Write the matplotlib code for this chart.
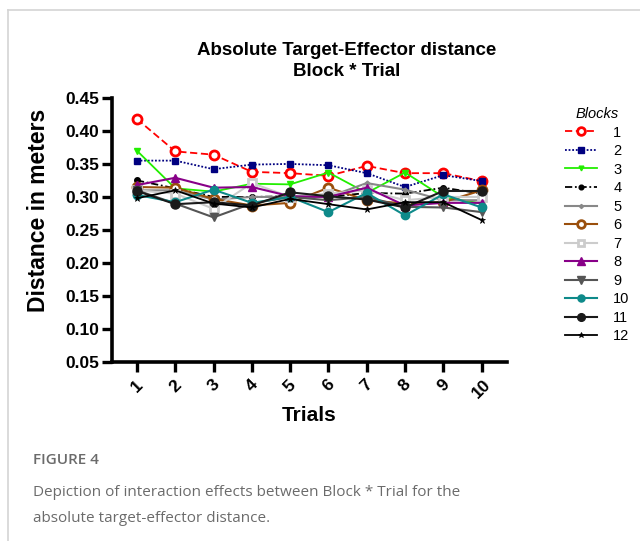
import matplotlib
matplotlib.use("Agg")
import matplotlib.pyplot as plt
from matplotlib.lines import Line2D

plt.rcParams['font.family'] = ['Liberation Sans', 'DejaVu Sans']

trials = [1, 2, 3, 4, 5, 6, 7, 8, 9, 10]
tick_labels = ["1", "2", "3", "4", "5", "6", "7", "8", "9", "10"]
y_ticks = [0.05, 0.10, 0.15, 0.20, 0.25, 0.30, 0.35, 0.40, 0.45]
block_names = ["1", "2", "3", "4", "5", "6", "7", "8", "9", "10", "11", "12"]

block1 = [0.418, 0.369, 0.364, 0.338, 0.336, 0.332, 0.347, 0.336, 0.336, 0.324]
block2 = [0.355, 0.355, 0.342, 0.349, 0.350, 0.348, 0.336, 0.315, 0.333, 0.324]
block3 = [0.370, 0.313, 0.308, 0.320, 0.319, 0.337, 0.306, 0.337, 0.300, 0.290]
block4 = [0.325, 0.313, 0.300, 0.300, 0.301, 0.300, 0.306, 0.305, 0.314, 0.305]
block5 = [0.310, 0.310, 0.296, 0.300, 0.300, 0.300, 0.321, 0.311, 0.295, 0.295]
block6 = [0.315, 0.314, 0.297, 0.287, 0.291, 0.314, 0.295, 0.290, 0.292, 0.310]
block7 = [0.310, 0.305, 0.282, 0.321, 0.300, 0.305, 0.310, 0.295, 0.300, 0.300]
block8 = [0.318, 0.329, 0.314, 0.315, 0.301, 0.300, 0.314, 0.287, 0.291, 0.291]
block9 = [0.310, 0.290, 0.269, 0.290, 0.300, 0.295, 0.300, 0.285, 0.284, 0.277]
block10 = [0.303, 0.292, 0.311, 0.291, 0.300, 0.277, 0.306, 0.272, 0.304, 0.284]
block11 = [0.309, 0.289, 0.292, 0.287, 0.307, 0.301, 0.296, 0.284, 0.309, 0.309]
block12 = [0.298, 0.310, 0.290, 0.284, 0.297, 0.289, 0.281, 0.292, 0.292, 0.265]

series = [block1, block2, block3, block4, block5, block6,
          block7, block8, block9, block10, block11, block12]

styles = [
    dict(color='#ff0000', ls=(0, (4, 2)), marker='o', ms=6.5, mfc='white', mec='#ff0000', mew=2.0, lw=1.3),
    dict(color='#000080', ls=(0, (1, 1)), marker='s', ms=5, mfc='#000080', mec='#000080', mew=1, lw=1.3),
    dict(color='#22ee00', ls='-', marker='v', ms=4, mfc='#22ee00', mec='#22ee00', mew=1, lw=1.3),
    dict(color='#000000', ls=(0, (4, 1.5, 1, 1.5)), marker='o', ms=4, mfc='#000000', mec='#000000', mew=1, lw=1.3),
    dict(color='#888888', ls='-', marker='D', ms=2.5, mfc='#888888', mec='#888888', mew=1, lw=1.5),
    dict(color='#9a4f0c', ls='-', marker='o', ms=6.5, mfc='white', mec='#9a4f0c', mew=2.0, lw=1.5),
    dict(color='#cccccc', ls='-', marker='s', ms=5.5, mfc='white', mec='#cccccc', mew=2.0, lw=1.5),
    dict(color='#880088', ls='-', marker='^', ms=6, mfc='#880088', mec='#880088', mew=1, lw=1.5),
    dict(color='#555555', ls='-', marker='v', ms=6, mfc='#555555', mec='#555555', mew=1, lw=1.5),
    dict(color='#0e8a8a', ls='-', marker='o', ms=6, mfc='#0e8a8a', mec='#0e8a8a', mew=1, lw=1.5),
    dict(color='#1a1a1a', ls='-', marker='o', ms=6.5, mfc='#1a1a1a', mec='#1a1a1a', mew=1, lw=1.5),
    dict(color='#000000', ls='-', marker='*', ms=4.5, mfc='#000000', mec='#000000', mew=0.5, lw=1.3),
]

fig = plt.figure(figsize=(6.4, 5.41), dpi=100)
ax = fig.add_axes([0.1745, 0.331, 0.6175, 0.488])

for vals, name, st in zip(series, block_names, styles):
    ax.plot(trials, vals, label=name, color=st['color'], linestyle=st['ls'],
            linewidth=st['lw'], marker=st['marker'], markersize=st['ms'],
            markerfacecolor=st['mfc'], markeredgecolor=st['mec'],
            markeredgewidth=st['mew'])

ax.set_xlim(0.34, 10.66)
ax.set_ylim(0.05, 0.45)
ax.set_yticks(y_ticks)
ax.set_yticklabels([f"{v:.2f}" for v in y_ticks], fontsize=12.5, fontweight='bold')
ax.set_xticks(trials)
ax.set_xticklabels(tick_labels, rotation=45, ha='center', va='top',
                   fontsize=12.5, fontweight='bold')
for s in ['top', 'right']:
    ax.spines[s].set_visible(False)
for s in ['left', 'bottom']:
    ax.spines[s].set_linewidth(2.6)
ax.tick_params(axis='both', width=2.4, length=7, pad=2)
ax.tick_params(axis='x', pad=4)

ax.set_xlabel("Trials", fontsize=15, fontweight='bold', labelpad=3)
fig.text(39 / 640, 1 - 210 / 541, "Distance in meters", rotation=90, ha='center', va='center',
         fontsize=16.5, fontweight='bold')

fig.text(0.541, 0.906, "Absolute Target-Effector distance", ha='center', va='center',
         fontsize=13.5, fontweight='bold')
fig.text(0.541, 0.867, "Block * Trial", ha='center', va='center',
         fontsize=13.5, fontweight='bold')

leg = ax.legend(loc='upper left', bbox_to_anchor=(0.874, 0.813), bbox_transform=fig.transFigure,
                frameon=False, fontsize=10.5, handlelength=2.2, handletextpad=1.1,
                labelspacing=0.31, borderaxespad=0, title="Blocks", markerscale=0.85)
leg.get_title().set_fontstyle('italic')
leg.get_title().set_fontsize(10.5)
leg._legend_box.align = "center"

# panel border
fig.add_artist(Line2D([0.0125, 1.0], [0.9824, 0.9824], transform=fig.transFigure,
                      color='#d4d4d4', lw=1.2))
fig.add_artist(Line2D([0.0125, 0.0125], [0.0, 0.9824], transform=fig.transFigure,
                      color='#d4d4d4', lw=1.2))

cap_font = ['Open Sans', 'DejaVu Sans']
fig.text(0.052, 1 - 460 / 541, "FIGURE 4", ha='left', va='center', fontsize=11,
         color='#6b6b6b', family=cap_font, fontweight='semibold')
fig.text(0.052, 1 - 493 / 541, "Depiction of interaction effects between Block * Trial for the",
         ha='left', va='center', fontsize=11, color='#6b6b6b', family=cap_font)
fig.text(0.052, 1 - 518 / 541, "absolute target-effector distance.",
         ha='left', va='center', fontsize=11, color='#6b6b6b', family=cap_font)

fig.savefig("out.png", dpi=100)
